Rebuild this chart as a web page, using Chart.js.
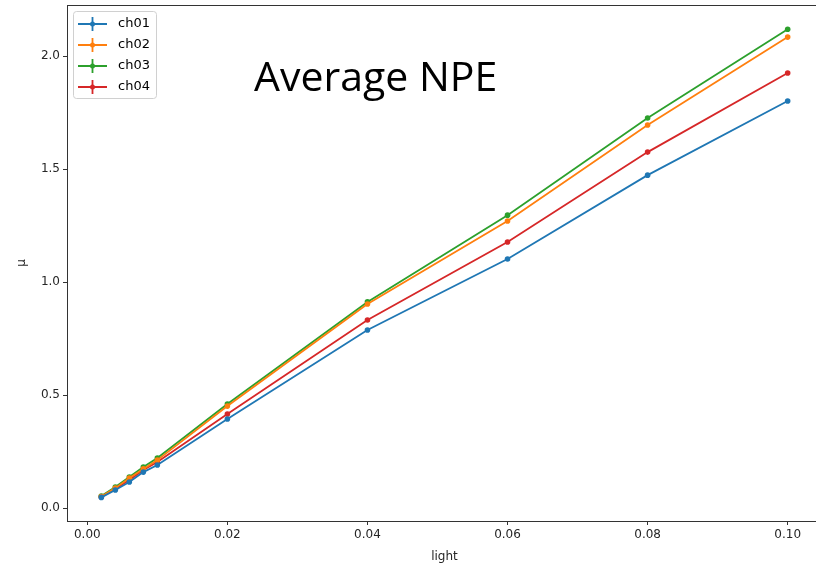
<!DOCTYPE html>
<html>
<head>
<meta charset="utf-8">
<script src="https://cdn.jsdelivr.net/npm/chart.js@4"></script>
<style>
  html, body { margin: 0; padding: 0; background: #fff; overflow: hidden; }
  #wrap { width: 830px; height: 564px; }
</style>
</head>
<body>
<div id="wrap"><canvas id="c" width="830" height="564"></canvas></div>
<script>
// light intensity points
const light = [0.002, 0.004, 0.006, 0.008, 0.01, 0.02, 0.04, 0.06, 0.08, 0.1];

// mean NPE per channel
const ch01 = [0.047, 0.080, 0.115, 0.159, 0.190, 0.394, 0.788, 1.102, 1.473, 1.801];
const ch02 = [0.051, 0.088, 0.133, 0.173, 0.212, 0.451, 0.903, 1.270, 1.695, 2.084];
const ch03 = [0.053, 0.093, 0.137, 0.181, 0.221, 0.460, 0.912, 1.296, 1.726, 2.119];
const ch04 = [0.049, 0.084, 0.124, 0.168, 0.204, 0.416, 0.832, 1.177, 1.575, 1.925];

const seriesNames = ['ch01', 'ch02', 'ch03', 'ch04'];
const seriesColors = ['#1f77b4', '#ff7f0e', '#2ca02c', '#d62728'];
const xTicks = [0, 0.02, 0.04, 0.06, 0.08, 0.1];
const yTicks = [0, 0.5, 1.0, 1.5, 2.0];

const toPoints = (vals) => light.map((x, i) => ({ x: x, y: vals[i] }));

const datasets = [ch01, ch02, ch03, ch04].map((vals, i) => ({
  label: seriesNames[i],
  data: toPoints(vals),
  borderColor: seriesColors[i],
  backgroundColor: seriesColors[i],
  borderWidth: 1.8,
  pointRadius: 2.8,
  pointBorderWidth: 0,
  tension: 0
}));

// frame, title and legend (matplotlib look)
const extras = {
  id: 'extras',
  afterDraw(chart) {
    const ctx = chart.ctx;
    const a = chart.chartArea;
    ctx.save();
    ctx.strokeStyle = '#333';
    ctx.lineWidth = 1;
    ctx.strokeRect(a.left + 0.5, a.top + 0.5, a.right - a.left, a.bottom - a.top);

    // big title
    ctx.fillStyle = '#000';
    ctx.font = '41px "Open Sans", "Noto Sans", sans-serif';
    ctx.textBaseline = 'alphabetic';
    ctx.fillText('Average NPE', 254, 91);

    // legend box
    const lx = 73, ly = 11, lw = 83, lh = 87;
    ctx.fillStyle = 'rgba(255,255,255,0.8)';
    ctx.strokeStyle = '#d0d0d0';
    ctx.beginPath();
    ctx.roundRect(lx + 0.5, ly + 0.5, lw, lh, 3);
    ctx.fill();
    ctx.stroke();
    ctx.font = '13px "DejaVu Sans", sans-serif';
    ctx.textBaseline = 'middle';
    seriesNames.forEach((name, i) => {
      const yy = ly + 13 + i * 21;
      ctx.strokeStyle = seriesColors[i];
      ctx.lineWidth = 1.8;
      ctx.beginPath();
      ctx.moveTo(78, yy);
      ctx.lineTo(107, yy);
      ctx.moveTo(92.5, yy - 7);
      ctx.lineTo(92.5, yy + 7);
      ctx.stroke();
      ctx.fillStyle = seriesColors[i];
      ctx.beginPath();
      ctx.arc(92.5, yy, 2.5, 0, Math.PI * 2);
      ctx.fill();
      ctx.fillStyle = '#000';
      ctx.fillText(name, 118, yy);
    });
    ctx.restore();
  }
};

new Chart(document.getElementById('c'), {
  type: 'line',
  data: { datasets },
  options: {
    responsive: false,
    animation: false,
    layout: { padding: { top: 5, right: 8, left: 0, bottom: 0 } },
    plugins: { legend: { display: false }, tooltip: { enabled: false } },
    scales: {
      x: {
        type: 'linear',
        min: -0.0029,
        max: 0.1049,
        afterBuildTicks: (s) => { s.ticks = xTicks.map(v => ({ value: v })); },
        afterFit: (s) => { s.height = 43; s.paddingLeft = 0; s.paddingRight = 0; },
        grid: { display: true, drawOnChartArea: false, drawTicks: true, tickLength: 4, color: '#333' },
        border: { display: true, color: '#333', width: 1 },
        ticks: {
          color: '#262626',
          font: { family: '"DejaVu Sans"', size: 12 },
          padding: 3,
          maxRotation: 0,
          callback: (v) => v.toFixed(2)
        },
        title: {
          display: true, text: 'light', color: '#262626',
          font: { family: '"DejaVu Sans"', size: 12 }, padding: { top: 2, bottom: 0 }
        }
      },
      y: {
        type: 'linear',
        min: -0.0575,
        max: 2.226,
        afterBuildTicks: (s) => { s.ticks = yTicks.map(v => ({ value: v })); },
        afterFit: (s) => { s.width = 67; s.paddingTop = 0; s.paddingBottom = 0; },
        grid: { display: true, drawOnChartArea: false, drawTicks: true, tickLength: 4, color: '#333' },
        border: { display: true, color: '#333', width: 1 },
        ticks: {
          color: '#262626',
          font: { family: '"DejaVu Sans"', size: 12 },
          padding: 3,
          callback: (v) => v.toFixed(1)
        },
        title: {
          display: true, text: 'μ', color: '#262626',
          font: { family: '"DejaVu Sans"', size: 12 }, padding: { top: 15, bottom: 4 }
        }
      }
    }
  },
  plugins: [extras]
});
</script>
</body>
</html>
